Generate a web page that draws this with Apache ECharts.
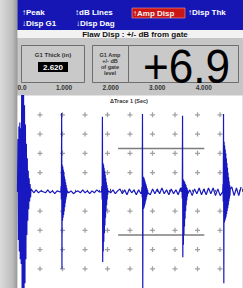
<!DOCTYPE html>
<html>
<head>
<meta charset="utf-8">
<script src="https://cdn.jsdelivr.net/npm/echarts@6/dist/echarts.min.js"></script>
<style>
  html, body { margin: 0; padding: 0; background: #c6c6c6; }
  #chart { width: 243px; height: 288px; }
</style>
</head>
<body>
<div id="chart"></div>
<script>
// ruler over the A-scan (inches)
const rulerTicks = [0, 1, 2, 3, 4];
const rulerMax = 4.83;

// graticule + marks (screen divisions / % screen height)
const gridCols = [1, 2, 3, 4, 5, 6, 7, 8, 9];
const gridRows = [80, 60, 40, 20, -20, -40, -60, -80];

// gate 1, drawn above and below the baseline
const gateStart = 2.16;
const gateEnd = 4.01;
const gateLevels = [45, -45];

// RF echoes: first sample at echoStart, spacing echoStep (in)
const echoStart = [0.0, 0.93, 1.805, 2.665, 3.525, 4.405];
const echoStep = [0.01, 0.006, 0.006, 0.006, 0.006, 0.006];
const echo1 = [0, 55, -50, 68, -62, 72, -70, 66, -75, 110, -110, 110, -110, 105, -110, 90, -95, 70, -70, 50, -45, 35, -30, 22, -18, 14, -10, 8, -6, 3];
const echo2 = [0, 6, -8, 82, -80, 28, -30, 26, -27, 23, -24, 20, -20, 16, -16, 13, -12, 10, -8, 7, -5, 4, -2, 1];
const echo3 = [0, 6, -8, 78, -73, 30, -62, 28, -52, 25, -43, 22, -35, 18, -27, 14, -20, 10, -14, 7, -8, 4, -3, 1];
const echo4 = [0, 5, -6, 81, -105, 16, -18, 15, -17, 14, -15, 12, -13, 10, -10, 8, -8, 6, -5, 4, -3, 2, -1];
const echo5 = [0, 5, -7, 79, -68, 13, -55, 12, -45, 11, -36, 10, -28, 8, -20, 7, -14, 5, -9, 4, -5, 2, -2];
const echo6 = [0, 8, -10, 81, -95, 52, -32, 48, -30, 44, -28, 40, -26, 35, -23, 30, -20, 25, -17, 20, -14, 15, -10, 11, -7, 7, -4, 3];

// baseline noise, one sample every 0.05 in from 0
const noiseStep = 0.05;
const noise = [0, 0, 0, 0, 0, 0, 1, -1, 2, -1, 1, 0, -1, 2, -1, 1, -2, 1, 0, 1,
  -1, 2, -1, 1, -2, 0, 1, -1, 2, -1, 1, -2, 1, -1, 2, 0, -1, 1, -2, 1,
  -1, 2, -2, 1, 3, -2, 2, -3, 3, -1, 2, -3, 2, -2, 3, -2, 1, -3, 3, -2,
  3, -2, 4, -2, 2, -3, 3, -2, 2, -3, 4, -2, 3, -2, 2, -4, 3, -2, 4, -3,
  3, -3, 4, -2, 4, -4, 3, -4, 4, -3, 3, -4, 5, -4, 4, -4, 5];

const echoes = [echo1, echo2, echo3, echo4, echo5, echo6];
const spans = echoes.map((e, i) => [echoStart[i], echoStart[i] + (e.length - 1) * echoStep[i]]);
const trace = [];
echoes.forEach((e, i) => e.forEach((v, k) => trace.push([+(echoStart[i] + k * echoStep[i]).toFixed(4), v])));
noise.forEach((v, k) => {
  const x = +(k * noiseStep).toFixed(3);
  if (!spans.some(s => x >= s[0] - 0.01 && x <= s[1] + 0.01)) trace.push([x, v]);
});
trace.sort((a, b) => a[0] - b[0]);

const crosses = [];
gridCols.forEach(c => gridRows.forEach(r => crosses.push([c, r])));

const FONT = '"Liberation Sans", Arial, sans-serif';
const txt = (text, x, y, size, fill, opt = {}) => ({
  type: 'text', z: 5, x: 0, y: 0,
  style: { text, x, y, fill, font: `${opt.weight || 'bold'} ${size}px ${FONT}`,
    align: opt.align || 'left', textAlign: opt.align || 'left',
    verticalAlign: 'middle', textVerticalAlign: 'middle' }
});
const box = (x, y, w, h, fill, stroke) => ({
  type: 'rect', z: -5, shape: { x, y, width: w, height: h },
  style: { fill, stroke: stroke || null, lineWidth: 1 }
});

const chart = echarts.init(document.getElementById('chart'), null, { renderer: 'svg' });
chart.setOption({
  animation: false,
  backgroundColor: '#c6c6c6',
  graphic: [
    { type: 'rect', z: -5, shape: { x: 0, y: 0, width: 17.5, height: 288 },
      style: { fill: { type: 'linear', x: 0, y: 0, x2: 1, y2: 0,
        colorStops: [{ offset: 0, color: '#dcdcdc' }, { offset: 0.7, color: '#bdbdbd' }, { offset: 1, color: '#979797' }] } } },
    box(17.5, 0, 226, 30, '#1616b4'),
    box(17.5, 30, 226, 8, '#f2f2f2'),
    box(21.5, 45.5, 63, 37, '#c9c9c9', '#6e6e6e'),
    box(92.5, 45.5, 36, 37, '#c9c9c9', '#6e6e6e'),
    box(128.5, 45.5, 110, 37, '#c9c9c9', '#6e6e6e'),
    box(38, 62, 30, 10, '#000'),
    { type: 'rect', z: 1, shape: { x: 132, y: 8, width: 53, height: 10 },
      style: { fill: '#cc1616', stroke: '#e7a0a0', lineWidth: 0.6 } },
    txt('↑Peak', 22, 12, 8, '#fff'),
    txt('↓Disp G1', 22, 23, 8, '#fff'),
    txt('↕dB Lines', 75, 12, 8, '#fff'),
    txt('↓Disp Dag', 76, 23, 8, '#fff'),
    txt('↑Amp Disp', 133, 13, 8, '#f4f4f4'),
    txt('↑Disp Thk', 188, 12, 8, '#fff'),
    txt('Flaw Disp : +/- dB from gate', 135, 34, 8, '#111', { align: 'center' }),
    txt('G1 Thick (in)', 53, 55, 6, '#333', { align: 'center' }),
    txt('2.620', 53, 67, 8, '#fff', { align: 'center' }),
    txt('G1 Amp', 110, 55, 5.5, '#333', { align: 'center' }),
    txt('+/- dB', 110, 61, 5.5, '#333', { align: 'center' }),
    txt('of gate', 110, 67, 5.5, '#333', { align: 'center' }),
    txt('level', 110, 73, 5.5, '#333', { align: 'center' }),
    { type: 'text', z: 5, x: 186.5, y: 66, scaleX: 0.92,
      style: { text: '+6.9', x: 0, y: 0, fill: '#000', font: `48px ${FONT}`,
        align: 'center', textAlign: 'center', verticalAlign: 'middle', textVerticalAlign: 'middle' } },
    txt('ΔTrace 1 (Sec)', 129, 101, 5.5, '#333', { align: 'center' })
  ],
  grid: { left: 17.5, right: 0.5, top: 95.6, bottom: -1.4, show: true, backgroundColor: '#fff', borderWidth: 0 },
  xAxis: [
    { type: 'value', position: 'top', min: 0, max: rulerMax, interval: 1,
      axisLine: { show: false },
      axisTick: { show: true, length: 3, lineStyle: { color: '#444' } },
      minorTick: { show: true, splitNumber: 4, length: 2, lineStyle: { color: '#555' } },
      splitLine: { show: false },
      axisLabel: { margin: 5, fontSize: 6.5, fontWeight: 'bold', color: '#333', fontFamily: FONT,
        showMaxLabel: false, alignMinLabel: 'left',
        formatter: v => rulerTicks.includes(v) ? (v === 0 ? '0.0' : v.toFixed(3)) : '' } },
    { type: 'value', min: 0, max: 10, show: false }
  ],
  yAxis: { type: 'value', min: -100, max: 100, show: false },
  series: [
    { type: 'scatter', xAxisIndex: 1, data: crosses, silent: true, z: 1,
      symbol: 'path://M3,0H5V3H8V5H5V8H3V5H0V3H3Z', symbolSize: 5,
      itemStyle: { color: '#8a8a8a' } },
    ...gateLevels.map(g => ({ type: 'line', xAxisIndex: 0, data: [[gateStart, g], [gateEnd, g]],
      symbol: 'none', silent: true, z: 2, lineStyle: { color: '#7c7c7c', width: 1.5 } })),
    { type: 'line', xAxisIndex: 0, data: trace, symbol: 'none', z: 3,
      lineStyle: { color: '#1818c0', width: 1.2 } }
  ]
});
</script>
</body>
</html>
